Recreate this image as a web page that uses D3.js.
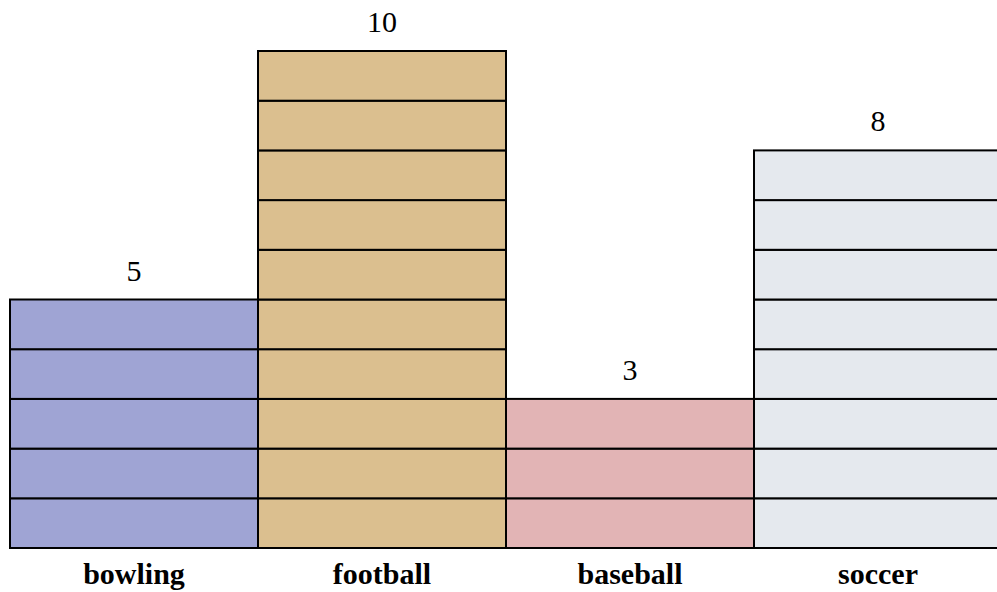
<!DOCTYPE html>
<html>
<head>
<meta charset="utf-8">
<script src="https://cdn.jsdelivr.net/npm/d3@7"></script>
<style>
  html, body { margin: 0; padding: 0; background: #fff; overflow: hidden; }
  svg { display: block; }
</style>
</head>
<body>
<div id="chart"></div>
<script>
const categories = ['bowling', 'football', 'baseball', 'soccer']
const values = [5, 10, 3, 8]
const colors = ['#9fa4d4', '#dbbf8f', '#e2b4b5', '#e5e9ee']

const width = 997, height = 592
const font = "'Liberation Serif', 'Times New Roman', serif"

const svg = d3.select('#chart').append('svg')
    .attr('width', width)
    .attr('height', height)

const x = d3.scaleBand()
    .domain(categories)
    .range([10, 1002])
    .padding(0)

const y = d3.scaleLinear()
    .domain([0, 10])
    .range([548, 51])

const data = categories.map((c, i) => ({ key: c, value: values[i], color: colors[i] }))

// one group per bar, each unit drawn as its own block
const bars = svg.selectAll('.bar')
    .data(data)
    .enter().append('g')
    .attr('class', 'bar')

bars.selectAll('rect')
    .data(d => d3.range(d.value).map(k => ({ parent: d, k })))
    .enter().append('rect')
    .attr('x', d => x(d.parent.key))
    .attr('y', d => y(d.k + 1))
    .attr('width', x.bandwidth())
    .attr('height', d => y(d.k) - y(d.k + 1))
    .style('fill', d => d.parent.color)
    .style('stroke', '#000')
    .style('stroke-width', 2)

// value on top
bars.append('text')
    .attr('x', d => x(d.key) + x.bandwidth() / 2)
    .attr('y', d => y(d.value) - 19)
    .attr('text-anchor', 'middle')
    .style('font-family', font)
    .style('font-size', '30px')
    .style('fill', '#000')
    .text(d => d.value)

// category labels below
svg.selectAll('.cat')
    .data(categories)
    .enter().append('text')
    .attr('class', 'cat')
    .attr('x', d => x(d) + x.bandwidth() / 2)
    .attr('y', 584)
    .attr('text-anchor', 'middle')
    .style('font-family', font)
    .style('font-size', '30px')
    .style('font-weight', 'bold')
    .style('fill', '#000')
    .text(d => d)
</script>
</body>
</html>
